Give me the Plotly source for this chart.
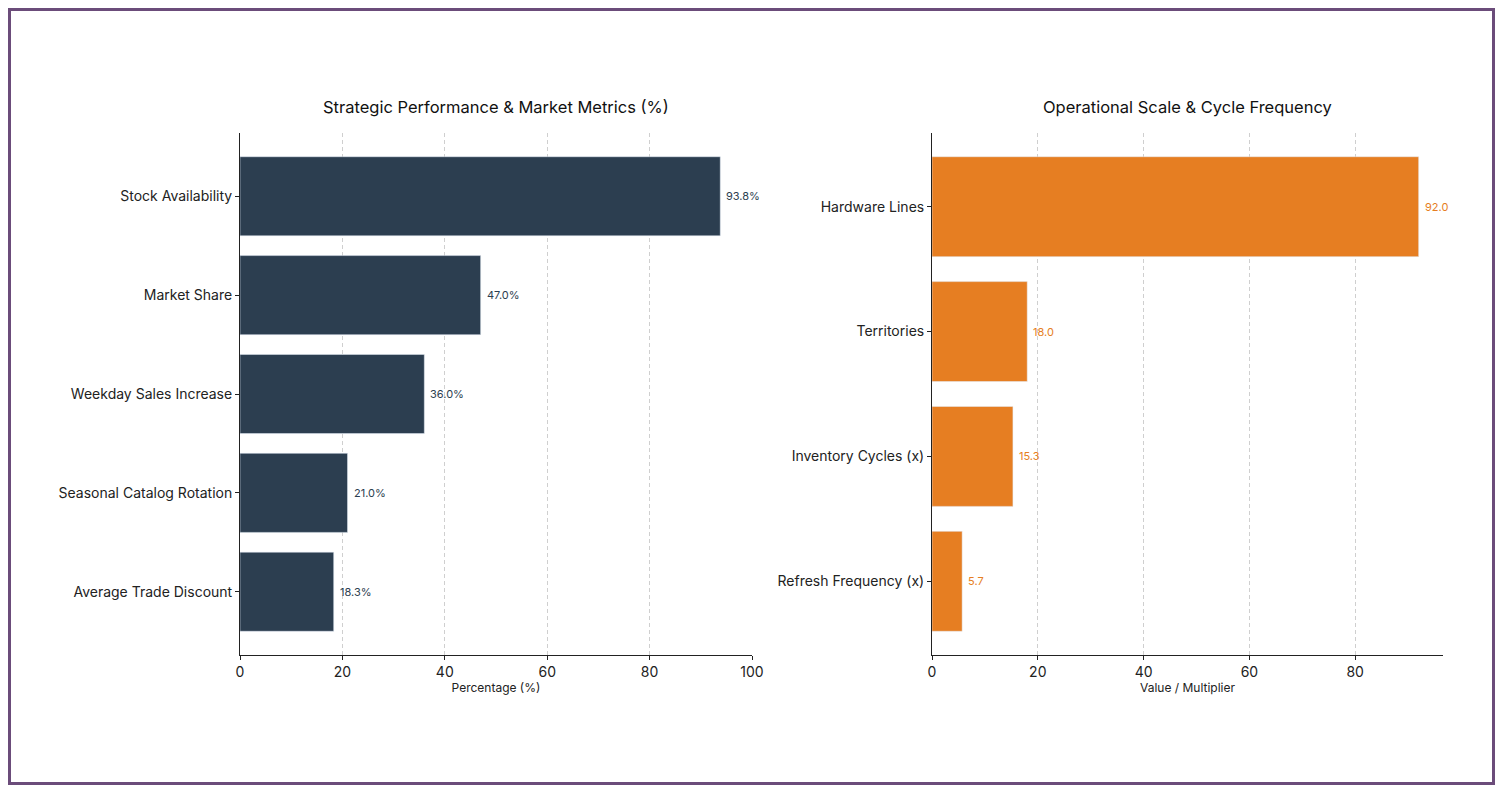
import plotly.graph_objects as go

left_cats = ["Average Trade Discount", "Seasonal Catalog Rotation", "Weekday Sales Increase", "Market Share", "Stock Availability"]
left_vals = [18.3, 21.0, 36.0, 47.0, 93.8]
right_cats = ["Refresh Frequency (x)", "Inventory Cycles (x)", "Territories", "Hardware Lines"]
right_vals = [5.7, 15.3, 18.0, 92.0]

left_title = "Strategic Performance & Market Metrics (%)"
right_title = "Operational Scale & Cycle Frequency"
left_xlabel = "Percentage (%)"
right_xlabel = "Value / Multiplier"

NAVY = "#2c3e50"
ORANGE = "#e67e22"
FONT = "Inter"

W, H = 1503, 793
ML, MR, MT, MB = 240, 60, 133, 138
PW = W - ML - MR
PH = H - MT - MB

fig = go.Figure()
fig.add_trace(go.Bar(
    y=left_cats, x=left_vals, orientation="h", marker_color=NAVY, width=0.8,
    xaxis="x", yaxis="y", showlegend=False, hoverinfo="x+y",
))
fig.add_trace(go.Bar(
    y=right_cats, x=right_vals, orientation="h", marker_color=ORANGE, width=0.8,
    xaxis="x2", yaxis="y2", showlegend=False, hoverinfo="x+y",
))

annotations = []
for c, v in zip(left_cats, left_vals):
    annotations.append(dict(x=v, y=c, xref="x", yref="y", text=f"{v:.1f}%", showarrow=False,
                            xanchor="left", yanchor="middle", xshift=4,
                            font=dict(size=11, color=NAVY, family=FONT)))
for c, v in zip(right_cats, right_vals):
    annotations.append(dict(x=v, y=c, xref="x2", yref="y2", text=f"{v:.1f}", showarrow=False,
                            xanchor="left", yanchor="middle", xshift=4,
                            font=dict(size=11, color=ORANGE, family=FONT)))

d1 = [0, (752 - ML) / PW]
d2 = [(932 - ML) / PW, 1]

common_x = dict(showgrid=True, gridcolor="#cfcfcf", griddash="4px,3px", gridwidth=1,
                showline=True, linecolor="#222", linewidth=1, ticks="outside",
                ticklen=4, tickcolor="#222", tickfont=dict(size=14, color="#222", family=FONT),
                zeroline=False, title_font=dict(size=12, color="#222", family=FONT),
                title_standoff=4)
common_y = dict(showgrid=False, showline=True, linecolor="#222", linewidth=1,
                ticks="outside", ticklen=4, tickcolor="#222",
                tickfont=dict(size=14, color="#222", family=FONT), zeroline=False)

annotations += [
    dict(text=left_title, x=sum(d1) / 2, y=(H - MB - 107) / PH, xref="paper", yref="paper",
         showarrow=False, xanchor="center", yanchor="middle",
         font=dict(size=16.5, color="#111", family=FONT)),
    dict(text=right_title, x=sum(d2) / 2, y=(H - MB - 107) / PH, xref="paper", yref="paper",
         showarrow=False, xanchor="center", yanchor="middle",
         font=dict(size=16.5, color="#111", family=FONT)),
]

fig.update_layout(
    width=W, height=H,
    margin=dict(l=ML, r=MR, t=MT, b=MB),
    paper_bgcolor="white", plot_bgcolor="white",
    font=dict(family=FONT, color="#222"),
    xaxis=dict(domain=d1, range=[0, 100], dtick=20, title_text=left_xlabel, anchor="y", **common_x),
    yaxis=dict(domain=[0, 1], range=[-0.64, 4.64], anchor="x", **common_y),
    xaxis2=dict(domain=d2, range=[0, 96.6], dtick=20, title_text=right_xlabel, anchor="y2", **common_x),
    yaxis2=dict(domain=[0, 1], range=[-0.59, 3.59], anchor="x2", **common_y),
    annotations=annotations,
    shapes=[dict(type="rect", xref="paper", yref="paper",
                 x0=(9.5 - ML) / PW, x1=(1493.5 - ML) / PW,
                 y0=(H - MB - 783.5) / PH, y1=(H - MB - 9.5) / PH,
                 line=dict(color="#6b4c7a", width=3), fillcolor="rgba(0,0,0,0)", layer="above")],
)

fig.write_html("out.html", config={"displayModeBar": False},
               post_script="document.body.style.margin='0';document.body.style.overflow='hidden';")
